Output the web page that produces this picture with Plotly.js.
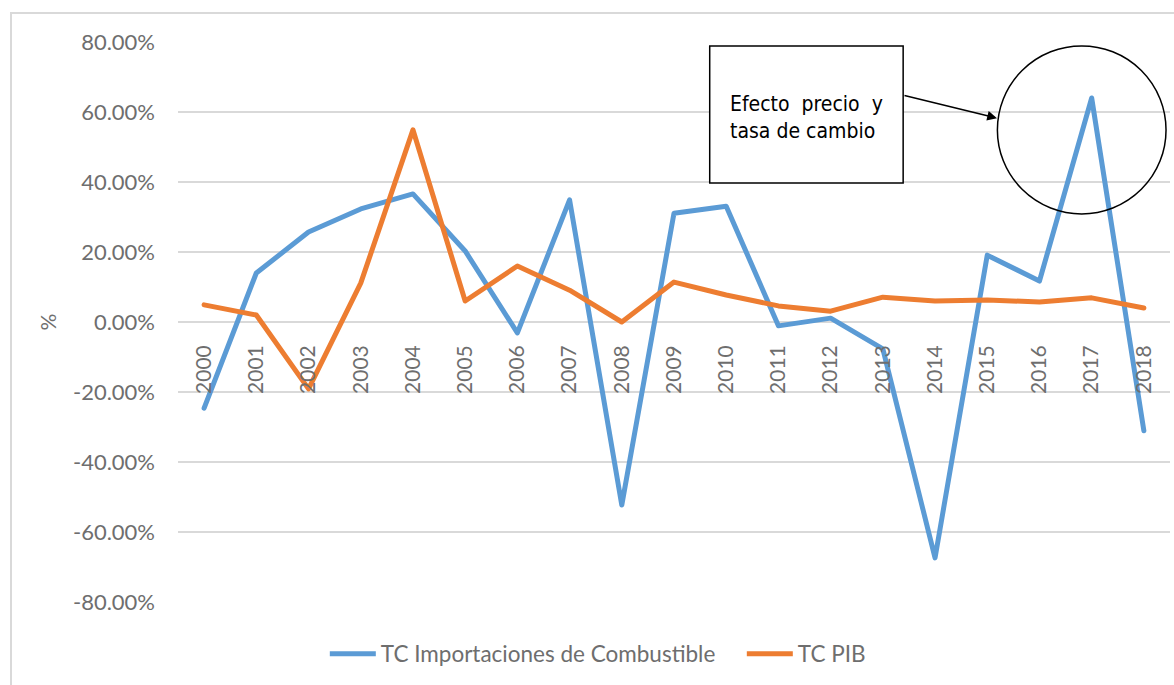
<!DOCTYPE html>
<html>
<head>
<meta charset="utf-8">
<script src="https://cdn.plot.ly/plotly-3.0.1.min.js"></script>
<style>
html,body{margin:0;padding:0;background:#fff;}
#wrap{position:relative;width:1174px;height:685px;overflow:hidden;}
#frame{position:absolute;left:10px;top:12px;width:1200px;height:700px;border:2px solid #d9d9d9;box-sizing:border-box;pointer-events:none;}
#chart{position:absolute;left:0;top:0;width:1174px;height:685px;}
#chart .scatterlayer path.js-line{stroke-linejoin:round;stroke-linecap:round;}
</style>
</head>
<body>
<div id="wrap"><div id="chart"></div><div id="frame"></div></div>
<script>
const years = ['2000','2001','2002','2003','2004','2005','2006','2007','2008','2009','2010','2011','2012','2013','2014','2015','2016','2017','2018'];
const importaciones = [-0.246, 0.140, 0.257, 0.323, 0.366, 0.203, -0.031, 0.349, -0.523, 0.311, 0.331, -0.011, 0.011, -0.077, -0.674, 0.191, 0.117, 0.640, -0.311];
const pib = [0.049, 0.020, -0.191, 0.111, 0.549, 0.060, 0.160, 0.091, 0.000, 0.114, 0.077, 0.046, 0.031, 0.071, 0.060, 0.063, 0.057, 0.069, 0.040];
const seriesNames = ['TC Importaciones de Combustible', 'TC PIB'];
const yTickVals = [-0.8, -0.6, -0.4, -0.2, 0, 0.2, 0.4, 0.6, 0.8];
const yTickText = ['-80.00%', '-60.00%', '-40.00%', '-20.00%', '0.00%', '20.00%', '40.00%', '60.00%', '80.00%'];
const noteText = 'Efecto\u00a0\u00a0precio\u00a0\u00a0y<br>tasa de cambio';

const gray = '#6e6e6e';
const font = 'Lato, "Open Sans", sans-serif';

const traces = [
  {x: years, y: importaciones, name: seriesNames[0], type: 'scatter', mode: 'lines',
   line: {color: '#5B9BD5', width: 5}},
  {x: years, y: pib, name: seriesNames[1], type: 'scatter', mode: 'lines',
   line: {color: '#ED7D31', width: 5}}
];

const layout = {
  width: 1174, height: 685,
  margin: {l: 178, r: 4, t: 42, b: 83, autoexpand: false},
  paper_bgcolor: 'rgba(0,0,0,0)', plot_bgcolor: 'rgba(0,0,0,0)',
  font: {family: font, color: gray, size: 21},
  showlegend: true,
  legend: {orientation: 'h', x: 0.148, xanchor: 'left', y: -0.093, yanchor: 'middle',
           font: {family: font, size: 22.5, color: gray}, itemwidth: 46,
           entrywidth: 356, entrywidthmode: 'pixels', tracegroupgap: 0},
  xaxis: {type: 'category', range: [-0.5, 18.5], anchor: 'free', position: 0.5, side: 'bottom',
          showgrid: false, showline: false, zeroline: false, ticks: '',
          tickangle: -90, tickfont: {family: font, size: 21, color: gray},
          ticklabelstandoff: 18, fixedrange: true},
  yaxis: {range: [-0.8, 0.8], tickmode: 'array', tickvals: yTickVals, ticktext: yTickText,
          showgrid: true, gridcolor: '#d9d9d9', gridwidth: 1.5,
          zeroline: true, zerolinecolor: '#d9d9d9', zerolinewidth: 1.5,
          showline: false, ticks: '', ticklabelstandoff: 22,
          tickfont: {family: font, size: 22, color: gray},
          title: {text: '%', font: {family: font, size: 21, color: gray}, standoff: 10},
          automargin: false, fixedrange: true},
  shapes: [
    {type: 'rect', xref: 'paper', yref: 'paper', x0: 0.536, x1: 0.731, y0: 0.748, y1: 0.993,
     line: {color: '#000', width: 1.5}, fillcolor: 'rgba(255,255,255,1)', layer: 'above'},
    {type: 'circle', xref: 'paper', yref: 'paper', x0: 0.826, x1: 0.996, y0: 0.693, y1: 0.993,
     line: {color: '#000', width: 1.5}, layer: 'above'}
  ],
  annotations: [
    {xref: 'paper', yref: 'paper', x: 0.554, y: 0.866, xanchor: 'left', yanchor: 'middle',
     text: noteText, align: 'left', showarrow: false,
     font: {family: '"DejaVu Sans Condensed", "DejaVu Sans", sans-serif', size: 21, color: '#000'}},
    {xref: 'paper', yref: 'paper', x: 0.8256, y: 0.864, axref: 'pixel', ayref: 'pixel',
     ax: -94, ay: -23, text: '', showarrow: true, arrowhead: 2, arrowsize: 1.3,
     arrowwidth: 1.5, arrowcolor: '#000', standoff: 0, startstandoff: 0}
  ]
};

Plotly.newPlot('chart', traces, layout, {displayModeBar: false, staticPlot: true});
</script>
</body>
</html>
